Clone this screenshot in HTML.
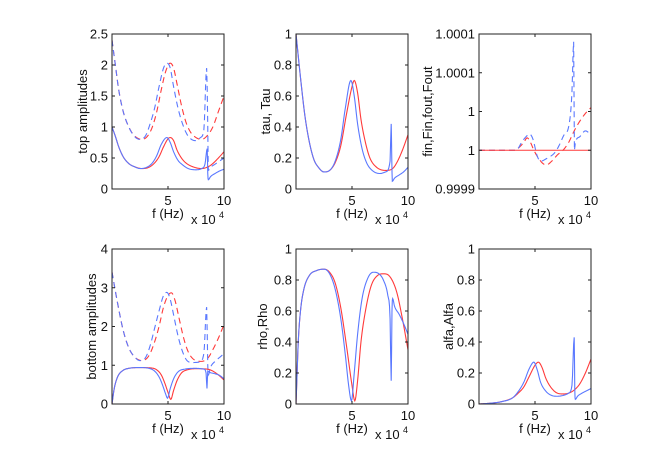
<!DOCTYPE html>
<html><head><meta charset="utf-8">
<style>
html,body{margin:0;padding:0;background:#fff;}
svg{display:block;font-family:"Liberation Sans",sans-serif;}
</style></head>
<body>
<svg id="fig" width="654" height="455" viewBox="0 0 654 455" xmlns="http://www.w3.org/2000/svg"></svg>
<script>
// ---------- data (f in kHz) ----------
const p1RedSolidF=[0,3,6,10,15,20,27,33,38,42,46,50,52,55,58,62,66,72,80,86,90,95,100];
const p1RedSolidY=[1.0,0.85,0.68,0.52,0.41,0.36,0.33,0.35,0.42,0.52,0.68,0.81,0.83,0.78,0.63,0.5,0.42,0.36,0.33,0.36,0.41,0.5,0.6];
const p1BlueSolidF=[0,3,6,10,15,20,25,31,36,40,44,49,52,55,59,63,68,75,80,83,85,85.5,86,88,92,96,100];
const p1BlueSolidY=[1.0,0.85,0.68,0.52,0.41,0.36,0.33,0.35,0.42,0.54,0.72,0.83,0.75,0.6,0.46,0.39,0.33,0.31,0.33,0.4,0.65,0.25,0.15,0.2,0.25,0.29,0.32];
const p1RedDashF=[0,3,6,10,15,20,27,32,36,40,44,48,52,55,58,62,66,70,75,80,85,90,95,100];
const p1RedDashY=[2.4,2.0,1.6,1.25,1.0,0.86,0.8,0.86,1.0,1.25,1.6,1.9,2.03,1.95,1.7,1.35,1.08,0.92,0.83,0.8,0.86,1.0,1.25,1.5];
const p1BlueDashF=[0,3,6,10,15,20,25,30,34,38,42,46,49,52,55,59,63,67,71,75,79,82,84.5,85.5,86,88,92,96,100];
const p1BlueDashY=[2.4,2.0,1.6,1.25,1.0,0.85,0.8,0.86,1.05,1.3,1.65,1.95,2.03,1.95,1.65,1.3,1.05,0.88,0.8,0.78,0.83,0.95,1.95,1.0,0.3,0.35,0.4,0.45,0.5];

const p2RedF=[0,4,8,12,16,20,25,30,35,40,45,50,52,55,58,62,66,72,80,86,90,95,100];
const p2RedY=[1.0,0.72,0.47,0.3,0.19,0.14,0.11,0.12,0.17,0.28,0.48,0.66,0.7,0.62,0.45,0.3,0.2,0.14,0.12,0.13,0.17,0.25,0.35];
const p2BlueF=[0,4,8,12,16,20,25,30,35,40,44,49,52,55,59,63,68,75,80,84,85,85.5,86,88,92,96,100];
const p2BlueY=[1.0,0.72,0.47,0.3,0.19,0.14,0.11,0.12,0.18,0.32,0.52,0.7,0.6,0.42,0.26,0.17,0.12,0.1,0.11,0.18,0.42,0.2,0.05,0.07,0.09,0.11,0.14];

const p3TickLabels=["0.9999","1","1","1.0001","1.0001"];
const p3RedSolidF=[0,100];
const p3RedSolidY=[1,1];
const p3RedDashF=[0,33,35,40,43,46,49,53,57,60,65,70,75,80,85,90,95,100];
const p3RedDashY=[1.0,1.0,1.05,1.2,1.32,1.2,1.0,0.8,0.66,0.62,0.72,0.88,1.0,1.2,1.5,1.75,1.95,2.1];
const p3BlueDashF=[0,33,35,38,42,45,48,52,55,60,68,72,76,80,83,84.5,85.2,86,90,95,100];
const p3BlueDashY=[1.0,1.0,1.05,1.2,1.35,1.42,1.3,0.85,0.72,0.78,0.95,1.15,1.4,1.6,2.5,3.8,1.0,1.2,1.35,1.5,1.4];

const p4RedDashF=[0,5,10,15,20,27,33,38,42,46,50,53,56,60,64,68,73,80,86,90,95,100];
const p4RedDashY=[3.4,2.6,1.9,1.45,1.22,1.12,1.25,1.6,2.0,2.5,2.8,2.87,2.7,2.2,1.7,1.35,1.15,1.1,1.2,1.4,1.7,2.05];
const p4BlueDashF=[0,5,10,15,20,25,30,34,38,42,46,49,52,55,59,63,67,72,78,82,84.5,85.5,86,88,92,96,100];
const p4BlueDashY=[3.4,2.6,1.9,1.45,1.22,1.12,1.2,1.5,1.95,2.4,2.8,2.88,2.7,2.3,1.75,1.35,1.12,1.07,1.08,1.3,2.5,1.0,0.75,0.95,1.1,1.2,1.3];
const p4RedSolidF=[0,2,5,10,15,25,35,40,44,47,50,52.5,55,58,62,67,75,85,90,95,100];
const p4RedSolidY=[0,0.4,0.7,0.87,0.92,0.94,0.93,0.88,0.75,0.55,0.3,0.12,0.35,0.6,0.8,0.88,0.91,0.9,0.85,0.75,0.62];
const p4BlueSolidF=[0,2,5,10,15,25,33,38,42,45,48,49.5,52,55,59,65,75,82,84,84.8,85.5,87,92,96,100];
const p4BlueSolidY=[0,0.4,0.7,0.87,0.92,0.94,0.92,0.85,0.7,0.5,0.25,0.15,0.4,0.65,0.83,0.9,0.92,0.9,0.8,0.4,0.85,0.82,0.78,0.74,0.65];

const p5RedF=[0,1,2,4,7,12,18,25,30,35,40,45,50,52.5,55,58,62,67,73,78,84,90,95,100];
const p5RedY=[0,0.2,0.4,0.6,0.74,0.83,0.86,0.87,0.85,0.78,0.62,0.38,0.12,0.02,0.15,0.4,0.6,0.76,0.83,0.84,0.82,0.72,0.55,0.35];
const p5BlueF=[0,1,2,4,7,12,18,25,30,35,40,44,47,49.5,52,55,59,64,69,74,78,82,84,85,85.7,86.3,88,92,96,100];
const p5BlueY=[0,0.2,0.4,0.6,0.74,0.83,0.86,0.87,0.84,0.74,0.55,0.32,0.12,0.02,0.2,0.45,0.68,0.81,0.85,0.84,0.8,0.7,0.55,0.15,0.6,0.68,0.63,0.58,0.52,0.45];

const p6RedF=[0,10,20,30,35,40,45,50,53,56,60,65,70,75,80,85,90,95,100];
const p6RedY=[0,0.005,0.015,0.04,0.07,0.11,0.18,0.25,0.27,0.24,0.16,0.1,0.07,0.065,0.07,0.09,0.13,0.2,0.29];
const p6BlueF=[0,10,20,30,35,40,45,49,52,55,60,65,70,75,80,83,85,85.5,86,88,92,96,100];
const p6BlueY=[0,0.005,0.015,0.04,0.08,0.14,0.23,0.27,0.22,0.14,0.08,0.055,0.05,0.055,0.07,0.12,0.43,0.1,0.03,0.05,0.07,0.085,0.1];

const xTicks=[50,100];
const xTickLabels=["5","10"];

// ---------- drawing ----------
const NS="http://www.w3.org/2000/svg";
const svg=document.getElementById('fig');
const RED="#ff3a3a", BLUE="#5a78ff";
function el(tag,attrs,parent){const e=document.createElementNS(NS,tag);for(const k in attrs)e.setAttribute(k,attrs[k]);(parent||svg).appendChild(e);return e;}

// monotone cubic (Fritsch-Carlson) sampling, no overshoot
function smooth(xs,ys){
  const n=xs.length; if(n<3) return xs.map((x,i)=>[x,ys[i]]);
  const d=[],m=new Array(n);
  for(let i=0;i<n-1;i++) d.push((ys[i+1]-ys[i])/(xs[i+1]-xs[i]));
  m[0]=d[0]; m[n-1]=d[n-2];
  for(let i=1;i<n-1;i++){ m[i]=(d[i-1]*d[i]<=0)?0:(d[i-1]+d[i])/2; }
  for(let i=0;i<n-1;i++){
    if(d[i]===0){m[i]=0;m[i+1]=0;continue;}
    const a=m[i]/d[i],b=m[i+1]/d[i],s=a*a+b*b;
    if(s>9){const t=3/Math.sqrt(s);m[i]=t*a*d[i];m[i+1]=t*b*d[i];}
  }
  const out=[];
  for(let i=0;i<n-1;i++){
    const h=xs[i+1]-xs[i],steps=Math.max(2,Math.ceil(h*2));
    for(let k=0;k<steps;k++){
      const t=k/steps,t2=t*t,t3=t2*t;
      const y=(2*t3-3*t2+1)*ys[i]+(t3-2*t2+t)*h*m[i]+(-2*t3+3*t2)*ys[i+1]+(t3-t2)*h*m[i+1];
      out.push([xs[i]+t*h,y]);
    }
  }
  out.push([xs[n-1],ys[n-1]]);
  return out;
}

function axes(name,x0,y0,x1,y1,ymin,ymax,yt,ytl,ylabel,ylx,series){
  const g=el('g',{});
  
  
  const sx=f=>x0+(f/100)*(x1-x0);
  const sy=v=>y1-(v-ymin)/(ymax-ymin)*(y1-y0);
  const clipId='c'+name;
  const cp=el('clipPath',{id:clipId},g);el('rect',{x:x0,y:y0,width:x1-x0,height:y1-y0},cp);
  el('rect',{x:x0,y:y0,width:x1-x0,height:y1-y0,fill:'#fff'},g);
  const sg=el('g',{'clip-path':'url(#'+clipId+')'},g);
  series.forEach(s=>{
    const pts=smooth(s.f,s.y).map(p=>sx(p[0]).toFixed(2)+','+sy(p[1]).toFixed(2)).join(' ');
    const pl=el('polyline',{points:pts,fill:'none',stroke:s.c,'stroke-width':1.1,'stroke-dasharray':s.d?'6,4':'none'},sg);
    
    
  });
  el('rect',{x:x0,y:y0,width:x1-x0,height:y1-y0,fill:'none',stroke:'#222','stroke-width':1},g);
  yt.forEach((v,i)=>{
    const y=sy(v);
    el('line',{x1:x0,y1:y,x2:x0+3,y2:y,stroke:'#222'},g);
    el('line',{x1:x1,y1:y,x2:x1-3,y2:y,stroke:'#222'},g);
    const t=el('text',{x:x0-4,y:y+4.5,'text-anchor':'end','font-size':13,fill:'#111'},g);
    t.textContent=ytl[i];
    
    
  });
  xTicks.forEach((f,i)=>{
    const x=sx(f);
    el('line',{x1:x,y1:y1,x2:x,y2:y1-3,stroke:'#222'},g);
    el('line',{x1:x,y1:y0,x2:x,y2:y0+3,stroke:'#222'},g);
    const t=el('text',{x:x,y:y1+16,'text-anchor':'middle','font-size':13,fill:'#111'},g);
    t.textContent=xTickLabels[i];
    
    
  });
  const xl=el('text',{x:(x0+x1)/2,y:y1+29,'text-anchor':'middle','font-size':13,fill:'#111'},g);
  xl.textContent='f (Hz)';
  
  
  const ex=el('text',{x:x1-33,y:y1+35,'font-size':13,fill:'#111'},g);
  ex.textContent='x 10';
  
  
  const sup=el('text',{x:x1-5,y:y1+29,'font-size':9,fill:'#111'},g);
  sup.textContent='4';
  const yc=(y0+y1)/2;
  const yl=el('text',{x:ylx,y:yc,'text-anchor':'middle','font-size':13,fill:'#111',transform:'rotate(-90 '+ylx+' '+yc+')'},g);
  yl.textContent=ylabel;
  
  
}

const C=[[112,224],[296,408],[479,591]], R=[[34,189],[249,404]];
axes('top-amplitudes-plot',C[0][0],R[0][0],C[0][1],R[0][1],0,2.5,[0,0.5,1,1.5,2,2.5],["0","0.5","1","1.5","2","2.5"],'top amplitudes',87,[
 {f:p1RedDashF,y:p1RedDashY,c:RED,d:1,n:'top-red-dashed'},{f:p1BlueDashF,y:p1BlueDashY,c:BLUE,d:1,n:'top-blue-dashed'},
 {f:p1RedSolidF,y:p1RedSolidY,c:RED,d:0,n:'top-red-solid'},{f:p1BlueSolidF,y:p1BlueSolidY,c:BLUE,d:0,n:'top-blue-solid'}]);
axes('tau-plot',C[1][0],R[0][0],C[1][1],R[0][1],0,1,[0,0.2,0.4,0.6,0.8,1],["0","0.2","0.4","0.6","0.8","1"],'tau, Tau',270,[
 {f:p2RedF,y:p2RedY,c:RED,d:0,n:'tau-red'},{f:p2BlueF,y:p2BlueY,c:BLUE,d:0,n:'tau-blue'}]);
axes('fin-fout-plot',C[2][0],R[0][0],C[2][1],R[0][1],0,4,[0,1,2,3,4],p3TickLabels,'fin,Fin,fout,Fout',432,[
 {f:p3RedDashF,y:p3RedDashY,c:RED,d:1,n:'fout-red-dashed'},{f:p3BlueDashF,y:p3BlueDashY,c:BLUE,d:1,n:'fout-blue-dashed'},
 {f:p3RedSolidF,y:p3RedSolidY,c:RED,d:0,n:'fin-red-solid'}]);
axes('bottom-amplitudes-plot',C[0][0],R[1][0],C[0][1],R[1][1],0,4,[0,1,2,3,4],["0","1","2","3","4"],'bottom amplitudes',96,[
 {f:p4RedDashF,y:p4RedDashY,c:RED,d:1,n:'bottom-red-dashed'},{f:p4BlueDashF,y:p4BlueDashY,c:BLUE,d:1,n:'bottom-blue-dashed'},
 {f:p4RedSolidF,y:p4RedSolidY,c:RED,d:0,n:'bottom-red-solid'},{f:p4BlueSolidF,y:p4BlueSolidY,c:BLUE,d:0,n:'bottom-blue-solid'}]);
axes('rho-plot',C[1][0],R[1][0],C[1][1],R[1][1],0,1,[0,0.2,0.4,0.6,0.8,1],["0","0.2","0.4","0.6","0.8","1"],'rho,Rho',267,[
 {f:p5RedF,y:p5RedY,c:RED,d:0,n:'rho-red'},{f:p5BlueF,y:p5BlueY,c:BLUE,d:0,n:'rho-blue'}]);
axes('alfa-plot',C[2][0],R[1][0],C[2][1],R[1][1],0,1,[0,0.2,0.4,0.6,0.8,1],["0","0.2","0.4","0.6","0.8","1"],'alfa,Alfa',453,[
 {f:p6RedF,y:p6RedY,c:RED,d:0,n:'alfa-red'},{f:p6BlueF,y:p6BlueY,c:BLUE,d:0,n:'alfa-blue'}]);
</script>
</body></html>
